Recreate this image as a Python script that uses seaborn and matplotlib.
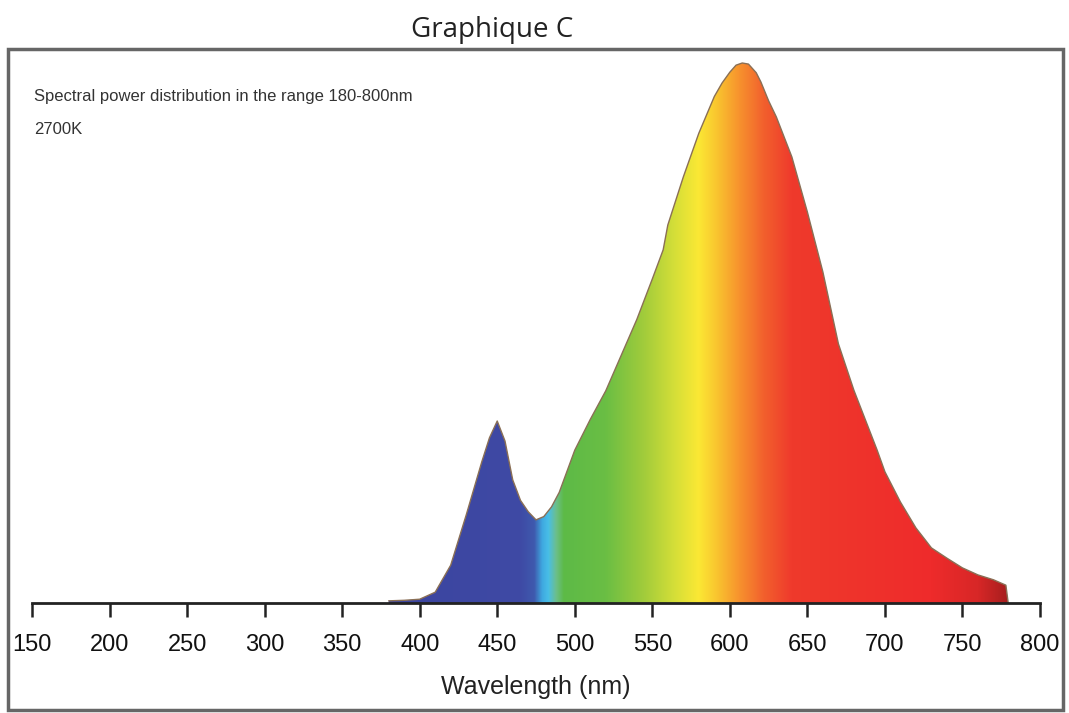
import numpy as np
import pandas as pd
import matplotlib
matplotlib.use("Agg")
import matplotlib.pyplot as plt
from matplotlib.patches import Rectangle
from matplotlib import font_manager
import seaborn as sns

# =========================
# Data
# =========================
wavelength = [380, 390, 400, 410, 420, 430, 440, 445, 450, 455, 460, 465, 470, 475,
              480, 485, 490, 500, 510, 520, 530, 540, 550, 557, 560, 570, 580, 590,
              595, 600, 604, 608, 612, 617, 620, 625, 630, 640, 650, 660, 670, 680,
              690, 695, 700, 710, 720, 730, 740, 750, 760, 770, 778, 779.5]
power = [0.004, 0.005, 0.007, 0.020, 0.070, 0.163, 0.261, 0.306, 0.337, 0.300, 0.228,
         0.190, 0.169, 0.154, 0.160, 0.178, 0.205, 0.283, 0.340, 0.393, 0.459, 0.525,
         0.600, 0.654, 0.700, 0.789, 0.870, 0.938, 0.963, 0.983, 0.996, 1.000, 0.998,
         0.982, 0.965, 0.930, 0.900, 0.826, 0.724, 0.613, 0.480, 0.394, 0.320, 0.283,
         0.243, 0.187, 0.139, 0.102, 0.083, 0.065, 0.052, 0.043, 0.033, 0.0]

xticks = list(range(150, 801, 50))

# colour stops of the spectrum fill (nm -> hex)
stop_nm = [400, 465, 474, 479, 483, 488, 493, 520, 545, 565, 580, 592, 606, 622, 640,
           730, 760, 780]
stop_col = ["#3C45A0", "#3F4AA5", "#3E5AAE", "#3FA8E0", "#48BEE8", "#6CBF8C", "#5DBA47",
            "#6ABE44", "#A2CC3B", "#D6DF38", "#FBE834", "#F9C42F", "#F7932D", "#F2602D",
            "#EF3A2C", "#EE2B2B", "#D82727", "#A51E1E"]

df = pd.DataFrame({"Wavelength": wavelength, "Power": power})

# =========================
# Style
# =========================
sns.set_theme(style="white")
installed = {f.name for f in font_manager.fontManager.ttflist}
narrow = [n for n in ["Liberation Sans Narrow", "DejaVu Sans Condensed"] if n in installed]
base = narrow + ["Liberation Sans", "DejaVu Sans"]
plt.rcParams["font.family"] = base
tick_size = 20 if narrow else 17

fig = plt.figure(figsize=(10.69, 7.13), dpi=100)
W, H = 1069, 713

# axes placed so that 150 -> px 32, 800 -> px 1040, baseline at px 603
ymax = 1.02
ax = fig.add_axes([32 / W, 1 - 603 / H, (1040 - 32) / W, (603 - 63) / H * ymax])

# gradient fill clipped to the curve
poly = ax.fill_between(df["Wavelength"], 0, df["Power"], facecolor="none", edgecolor="none")
grid_nm = np.linspace(150, 800, 1300)
rgb = np.array([matplotlib.colors.to_rgb(c) for c in stop_col])
img = np.stack([np.interp(grid_nm, stop_nm, rgb[:, i]) for i in range(3)], axis=-1)[None, :, :]
im = ax.imshow(img, extent=[150, 800, 0, ymax], aspect="auto", origin="lower", zorder=1)
im.set_clip_path(poly.get_paths()[0], transform=ax.transData)

sns.lineplot(data=df, x="Wavelength", y="Power", color="#8a6f55", linewidth=1.0,
             ax=ax, zorder=2, clip_on=False)

ax.set_xlim(150, 800)
ax.set_ylim(0, ymax)
ax.set_yticks([])
ax.set_xticks(xticks)
ax.set_xticklabels([str(t) for t in xticks], fontsize=tick_size, color="#111111")
ax.tick_params(axis="x", direction="out", length=10, width=1.8, color="#222222",
               pad=12, bottom=True)
for s in ["left", "top", "right"]:
    ax.spines[s].set_visible(False)
ax.spines["bottom"].set_linewidth(2.0)
ax.spines["bottom"].set_color("#222222")
ax.spines["bottom"].set_zorder(3)
ax.set_xlabel("Wavelength (nm)", fontsize=tick_size + 1, color="#222222", labelpad=14)
ax.set_ylabel("")
ax.patch.set_alpha(0)

# annotation texts inside the frame
note_size = 12.5 if narrow else 12
fig.text(34 / W, 1 - 96 / H, "Spectral power distribution in the range 180-800nm",
         fontsize=note_size, color="#333333", ha="left", va="center")
fig.text(34 / W, 1 - 130 / H, "2700K", fontsize=note_size, color="#333333",
         ha="left", va="center")

# title
fig.text(492 / W, 1 - 30 / H, "Graphique C", fontsize=20, color="#222222",
         ha="center", va="center", family=["Open Sans", "DejaVu Sans"])

# frame around the chart
fig.patches.append(Rectangle((8 / W, 3 / H), (1063 - 8) / W, (710 - 49) / H,
                             transform=fig.transFigure, fill=False,
                             edgecolor="#666666", linewidth=2.5))

fig.savefig("out.png", dpi=100)
